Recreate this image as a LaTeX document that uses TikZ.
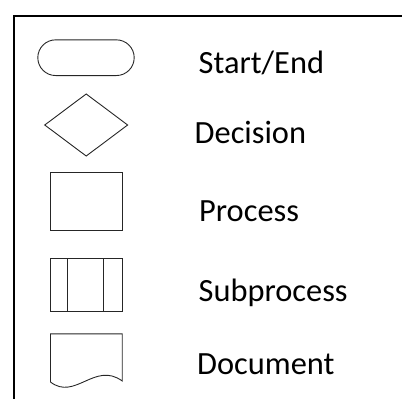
\documentclass[tikz,border=0pt]{standalone}
\usepackage{fontspec}
\setmainfont{Carlito}
\usetikzlibrary{shapes.geometric,shapes.misc}
\usetikzlibrary{calc}

\tikzset{
  symbol/.style={draw=black!85, line width=0.9pt, inner sep=0pt},
  legendtext/.style={anchor=base west, inner sep=0pt, font=\fontsize{32.4}{38}\selectfont},
  frameline/.style={line width=2pt}
}

\begin{document}
\begin{tikzpicture}[x=1pt,y=-1pt]
\useasboundingbox (0,0) rectangle (402,399);

\coordinate (corner) at (14,15.5);
\coordinate (frametop) at (402,15.5);
\coordinate (framebottom) at (14,399);
\draw[frameline] (frametop) -- (corner) -- (framebottom);

\node[symbol, rounded rectangle, minimum width=96.4pt, minimum height=35.7pt] (terminal) at (86,57.7) {};
\node[symbol, diamond, minimum width=83.3pt, minimum height=62.4pt] (decision) at (86.2,125) {};
\node[symbol, rectangle, minimum width=71.7pt, minimum height=58.6pt] (process) at (86.3,201.5) {};
\node[symbol, rectangle, minimum width=71.7pt, minimum height=53pt] (subprocess) at (86.3,285.3) {};

\draw[symbol] ($(subprocess.north west)!0.243!(subprocess.north east)$) -- ($(subprocess.south west)!0.243!(subprocess.south east)$);
\draw[symbol] ($(subprocess.north west)!0.743!(subprocess.north east)$) -- ($(subprocess.south west)!0.743!(subprocess.south east)$);

\draw[symbol] (50.5,382) -- (50.5,333.8) -- (122.2,333.8) -- (122.2,381) .. controls (95,361) and (75,401) .. (50.5,382);

\node[legendtext] (terminallabel) at (198.5,73.3) {Start/End};
\node[legendtext] (decisionlabel) at (194.5,143.3) {Decision};
\node[legendtext] (processlabel) at (199,221.7) {Process};
\node[legendtext] (subprocesslabel) at (198.5,301.7) {Subprocess};
\node[legendtext] (documentlabel) at (197,374) {Document};

\end{tikzpicture}
\end{document}
